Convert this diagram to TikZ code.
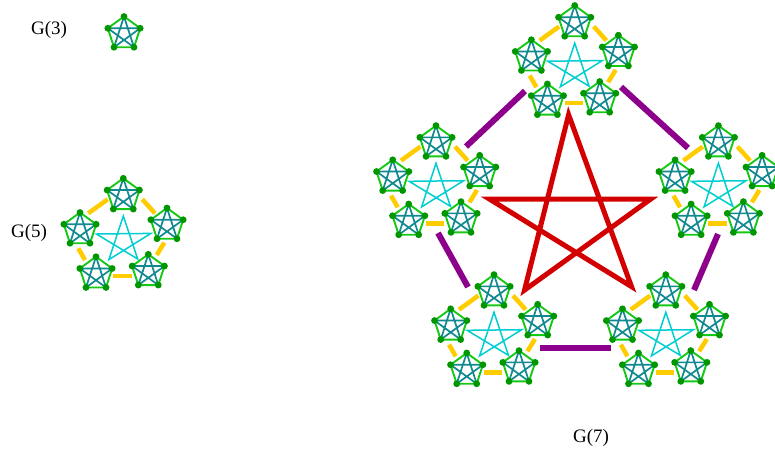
\documentclass[tikz,border=0pt]{standalone}
\usepackage{fontspec}
\setmainfont{Liberation Serif}
\definecolor{kgreen}{RGB}{20,200,20}
\definecolor{kteal}{RGB}{16,137,145}
\definecolor{kdot}{RGB}{0,150,0}
\definecolor{kcyan}{RGB}{0,206,209}
\definecolor{kyellow}{RGB}{255,204,0}
\definecolor{kpurple}{RGB}{140,0,140}
\definecolor{kred}{RGB}{210,0,0}
\tikzset{
  outer/.style={draw=kgreen,line width=1.9pt,line join=round},
  inner/.style={draw=kteal,line width=1.7pt},
  vdot/.style={fill=kdot},
  ring/.style={draw=kyellow,line width=4.5pt},
  midstar/.style={draw=kcyan,line width=1.5pt,line join=miter},
  bigring/.style={draw=kpurple,line width=6pt},
  bigstar/.style={draw=kred,line width=5pt,line join=miter},
  lbl/.style={font=\fontsize{19}{19}\selectfont}
}
\newcommand{\kfive}[2]{%
  \begin{scope}[shift={(#1,#2)}]
    \draw[inner] (-90:17) -- (54:17) -- (198:17) -- (-18:17) -- (126:17) -- cycle;
    \draw[outer] (-90:17) -- (-18:17) -- (54:17) -- (126:17) -- (198:17) -- cycle;
    \foreach \a in {-90,-18,54,126,198} \fill[vdot] (\a:17) circle (3.4pt);
  \end{scope}}
\newcommand{\gfive}[2]{%
  \begin{scope}[shift={(#1,#2)}]
    \draw[midstar] (0.4,-23) -- (-14,20.6) -- (28,-5.6) -- (-26.5,-5) -- (14.8,20) -- cycle;
    \draw[ring] (-34.6,-25.7) -- (-15.2,-39.7);
    \draw[ring] (19.4,-39.7) -- (32.1,-25.7);
    \draw[ring] (41.4,3.7) -- (33.8,16);
    \draw[ring] (8.8,37) -- (-9.6,37);
    \draw[ring] (-37.9,21) -- (-44.6,9.3);
    \kfive{0.4}{-43.7}
    \kfive{-42.9}{-9.5}
    \kfive{44.1}{-14}
    \kfive{-26.9}{34.7}
    \kfive{25.4}{32.3}
  \end{scope}}

\begin{document}
\begin{tikzpicture}[x=1pt,y=-1pt]
  \useasboundingbox (0,0) rectangle (775,451);
  \node[lbl] (g3) at (49,30) {G(3)};
  \node[lbl] (g5) at (29,233) {G(5)};
  \node[lbl] (g7) at (591,438) {G(7)};
  \kfive{124}{33.5}
  \gfive{122.9}{239}
  \draw[bigstar] (568.6,114.7) -- (524.5,290.1) -- (650.5,199.2) -- (489.5,199.1) -- (631.5,286.6) -- cycle;
  \draw[bigring] (466,146.5) -- (525,91);
  \draw[bigring] (621,87) -- (688,148);
  \draw[bigring] (438,233) -- (468,287);
  \draw[bigring] (718,234) -- (694,290);
  \draw[bigring] (540,348) -- (611,348);
  \gfive{574.3}{66.2}
  \gfive{435.6}{186.3}
  \gfive{718}{186.3}
  \gfive{493.6}{335.3}
  \gfive{665.4}{335.3}
\end{tikzpicture}
\end{document}
